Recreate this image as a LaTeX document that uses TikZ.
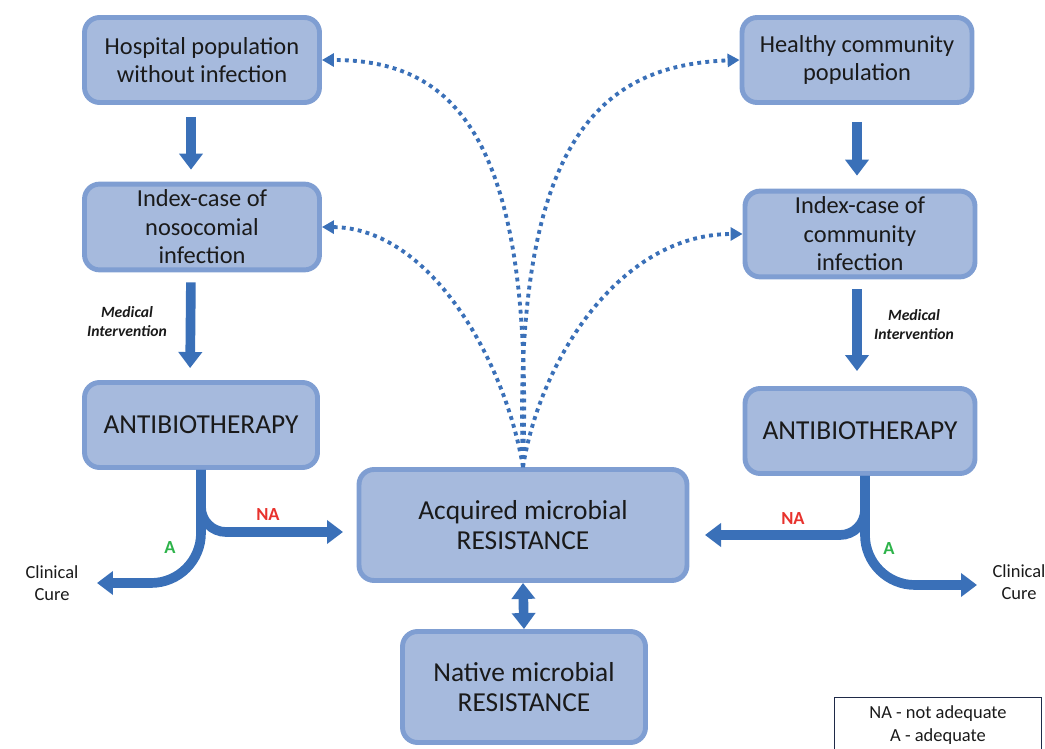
\documentclass[tikz,border=0pt]{standalone}
\usepackage{fontspec}
\setmainfont{Carlito}
\usepackage{xcolor}
\definecolor{colBox}{HTML}{A6BADD}
\definecolor{colBoxLine}{HTML}{7F9ED2}
\definecolor{colArrow}{HTML}{3A70B8}
\definecolor{colText}{HTML}{1A1A1A}
\definecolor{colNA}{HTML}{E8322D}
\definecolor{colA}{HTML}{2DB34A}
\definecolor{colLegend}{HTML}{1F2A48}
\usetikzlibrary{arrows.meta, positioning}

\tikzset{
  box/.style={draw=colBoxLine, fill=colBox, line width=2.8pt, rounded corners=0.3cm,
    align=center, text=colText, minimum width=4.7cm, minimum height=1.7cm,
    font=\fontsize{13.9}{16.2}\selectfont},
  bigbox/.style={box, font=\fontsize{15.6}{17.2}\selectfont},
  flow/.style={draw=colArrow, line width=5.5pt, -{Triangle[width=0.46cm,length=0.32cm]}},
  spread/.style={draw=colArrow, line width=2.2pt, dash pattern=on 2.2pt off 2.4pt,
    -{Triangle[width=0.26cm,length=0.24cm]}},
  tag/.style={font=\fontsize{10.5}{12}\bfseries\selectfont},
  note/.style={align=center, text=colText, font=\fontsize{8.9}{10.8}\bfseries\itshape\selectfont},
  cure/.style={align=center, text=colText, font=\fontsize{10.5}{12.5}\selectfont}
}

\begin{document}
\begin{tikzpicture}[x=0.02cm, y=-0.02cm]
\useasboundingbox (0,0) rectangle (1045,749);

\node[box] (hosp) at (202,60) {Hospital population\\without infection};
\node[box] (nos) at (202,227) {Index-case of\\nosocomial\\infection};
\node[bigbox, minimum width=4.66cm] (abL) at (201,425) {ANTIBIOTHERAPY};
\node[box, minimum width=4.6cm] (healthy) at (857,60) {Healthy community\\population};
\node[box, minimum width=4.6cm] (comm) at (860,234) {Index-case of\\community\\infection};
\node[bigbox, minimum width=4.6cm] (abR) at (860,431) {ANTIBIOTHERAPY};
\node[bigbox, minimum width=6.56cm, minimum height=2.22cm] (acq) at (523,525) {Acquired microbial\\RESISTANCE};
\node[bigbox, minimum width=4.86cm, minimum height=2.22cm] (nat) at (524,687) {Native microbial\\RESISTANCE};

\node[note] (medL) at (127,322) {Medical\\Intervention};
\node[note] (medR) at (914,325) {Medical\\Intervention};
\node[cure] (cureL) at (52,583) {Clinical\\Cure};
\node[cure] (cureR) at (1019,582) {Clinical\\Cure};
\node[tag, text=colNA] (naL) at (268,515) {NA};
\node[tag, text=colNA] (naR) at (793,519) {NA};
\node[tag, text=colA] (aL) at (170,548) {A};
\node[tag, text=colA] (aR) at (889,549) {A};

\node[draw=colLegend, line width=0.6pt, anchor=north, align=center, text=colText, minimum width=4.14cm,
  inner ysep=4.6pt, text depth=0.5cm, font=\fontsize{10.5}{13}\selectfont] (legend) at (938,697)
  {NA - not adequate\\A - adequate};

\coordinate (naLend) at (343,532);
\coordinate (naRend) at (705,535);
\coordinate (cureLend) at (97,583);
\coordinate (cureRend) at (977,585);

\draw[flow, shorten <=0.24cm, shorten >=0.24cm] ([xshift=-0.22cm]hosp.south) -- ([xshift=-0.22cm]nos.north);
\draw[flow, shorten <=0.2cm, shorten >=0.24cm] ([xshift=-0.22cm]nos.south) -- ([xshift=-0.22cm]abL.north);
\draw[flow, shorten <=0.34cm, shorten >=0.26cm] (healthy.south) -- (healthy.south |- comm.north);
\draw[flow, shorten <=0.2cm, shorten >=0.3cm] (healthy.south |- comm.south) -- (healthy.south |- abR.north);

\draw[flow, rounded corners=0.5cm] (abL.south) |- (naLend);
\draw[flow, rounded corners=1cm] (abL.south) |- (cureLend);
\draw[flow, rounded corners=0.5cm] ([xshift=0.1cm]abR.south) |- (naRend);
\draw[flow, rounded corners=1cm] ([xshift=0.1cm]abR.south) |- (cureRend);

\draw[flow, {Triangle[width=0.46cm,length=0.32cm]}-{Triangle[width=0.46cm,length=0.32cm]}] (acq.south) -- (nat.north);

\draw[spread] (acq.north) .. controls (535,130) and (450,60) .. (hosp.east);
\draw[spread] (acq.north) .. controls (512,140) and (600,65) .. (healthy.west);
\draw[spread] (acq.north) .. controls (505,360) and (430,228) .. (nos.east);
\draw[spread] (acq.north) .. controls (540,360) and (620,234) .. (comm.west);
\end{tikzpicture}
\end{document}
